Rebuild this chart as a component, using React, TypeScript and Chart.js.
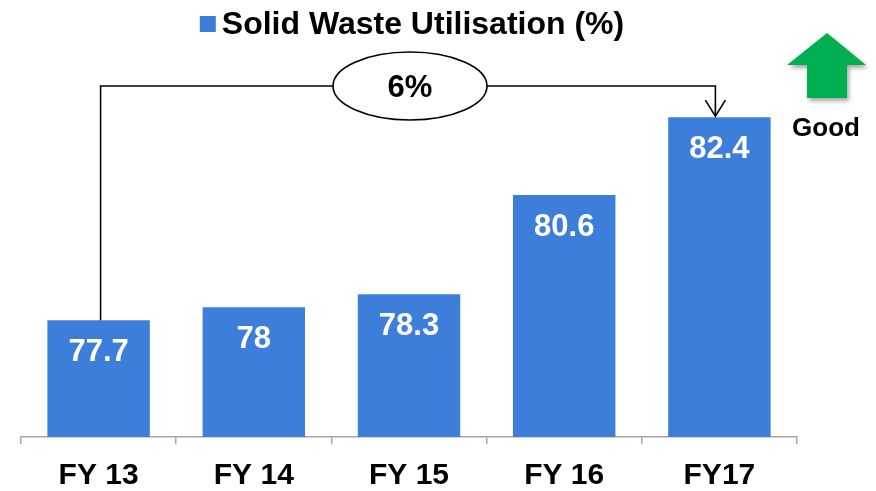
import React, { useEffect, useRef } from "react";
import { Chart, registerables } from "chart.js";

Chart.register(...registerables);

const categories = ["FY 13", "FY 14", "FY 15", "FY 16", "FY17"];
const utilisation = [77.7, 78, 78.3, 80.6, 82.4];
const seriesLabel = "Solid Waste Utilisation (%)";
const changeLabel = "6%";
const goodLabel = "Good";

const BLUE = "#3C7EDA";
const FONT = "'Liberation Sans', Arial, sans-serif";

const overlayPlugin = {
  id: "overlay",
  afterDatasetsDraw(chart: any) {
    const ctx = chart.ctx;
    const area = chart.chartArea;
    const meta = chart.getDatasetMeta(0);
    ctx.save();

    // value labels inside bars
    ctx.fillStyle = "#ffffff";
    ctx.font = `bold 31px ${FONT}`;
    ctx.textAlign = "center";
    ctx.textBaseline = "middle";
    meta.data.forEach((bar: any, i: number) => {
      ctx.fillText(String(utilisation[i]), bar.x, bar.y + 32);
    });

    // bracket
    const b0 = meta.data[0];
    const b1 = meta.data[meta.data.length - 1];
    const x0 = b0.x + 2;
    const x1 = b1.x - 4;
    const yLine = area.top + 38;
    ctx.strokeStyle = "#000";
    ctx.lineWidth = 1.6;
    ctx.beginPath();
    ctx.moveTo(x0, b0.y);
    ctx.lineTo(x0, yLine);
    ctx.lineTo(x1, yLine);
    ctx.lineTo(x1, b1.y - 1);
    ctx.stroke();
    ctx.beginPath();
    ctx.moveTo(x1 - 10, b1.y - 17);
    ctx.lineTo(x1, b1.y - 1);
    ctx.lineTo(x1 + 10, b1.y - 17);
    ctx.stroke();

    // ellipse with change
    const ex = (b0.x + b1.x) / 2 + 1;
    ctx.beginPath();
    ctx.ellipse(ex, yLine, 77, 34, 0, 0, Math.PI * 2);
    ctx.fillStyle = "#fff";
    ctx.fill();
    ctx.stroke();
    ctx.fillStyle = "#000";
    ctx.font = `bold 31px ${FONT}`;
    ctx.fillText(changeLabel, ex, yLine + 2);

    // green "good" arrow
    const ax = area.right + 30;
    ctx.save();
    ctx.shadowColor = "rgba(0,0,0,0.35)";
    ctx.shadowBlur = 4;
    ctx.shadowOffsetX = 2;
    ctx.shadowOffsetY = 3;
    ctx.fillStyle = "#00B050";
    ctx.beginPath();
    ctx.moveTo(ax, 33);
    ctx.lineTo(ax + 39, 65);
    ctx.lineTo(ax + 20, 65);
    ctx.lineTo(ax + 20, 98);
    ctx.lineTo(ax - 20, 98);
    ctx.lineTo(ax - 20, 65);
    ctx.lineTo(ax - 40, 65);
    ctx.closePath();
    ctx.fill();
    ctx.restore();

    ctx.fillStyle = "#000";
    ctx.font = `bold 26px ${FONT}`;
    ctx.textAlign = "center";
    ctx.textBaseline = "middle";
    ctx.fillText(goodLabel, ax - 1, 129);

    // legend
    ctx.font = `bold 32px ${FONT}`;
    const tw = ctx.measureText(seriesLabel).width;
    const total = 16 + 6 + tw;
    const cx = (area.left + area.right) / 2 + 3;
    const lx = cx - total / 2;
    ctx.fillStyle = BLUE;
    ctx.fillRect(lx, 16, 16, 16);
    ctx.fillStyle = "#000";
    ctx.textAlign = "left";
    ctx.textBaseline = "middle";
    ctx.fillText(seriesLabel, lx + 22, 25);

    ctx.restore();
  },
};

export default function App() {
  const ref = useRef<HTMLCanvasElement | null>(null);

  useEffect(() => {
    document.body.style.margin = "0";
    const canvas = ref.current;
    if (!canvas) return;
    const chart = new Chart(canvas, {
      type: "bar",
      data: {
        labels: categories,
        datasets: [
          {
            label: seriesLabel,
            data: utilisation,
            backgroundColor: BLUE,
            borderWidth: 0,
            barPercentage: 0.66,
            categoryPercentage: 1,
          },
        ],
      },
      options: {
        responsive: false,
        maintainAspectRatio: false,
        animation: false,
        devicePixelRatio: 1,
        layout: { padding: { left: 21, right: 79, top: 48, bottom: 0 } },
        plugins: {
          legend: { display: false },
          tooltip: { enabled: false },
          title: { display: false },
        },
        scales: {
          y: {
            display: false,
            min: 75,
            max: 84,
          },
          x: {
            grid: {
              display: true,
              drawOnChartArea: false,
              drawTicks: true,
              tickLength: 7,
              color: "#A6A6A6",
              lineWidth: 1.5,
              offset: true,
            },
            border: { display: true, color: "#A6A6A6", width: 1.5 },
            ticks: {
              color: "#000",
              font: { family: FONT, size: 30, weight: "bold" },
              padding: 14,
              maxRotation: 0,
            },
            afterFit(scale: any) {
              scale.height = 54;
            },
          },
        },
      },
      plugins: [overlayPlugin],
    } as any);
    return () => chart.destroy();
  }, []);

  return (
    <div style={{ width: 876, height: 491 }}>
      <canvas ref={ref} width={876} height={491} style={{ display: "block" }} />
    </div>
  );
}
